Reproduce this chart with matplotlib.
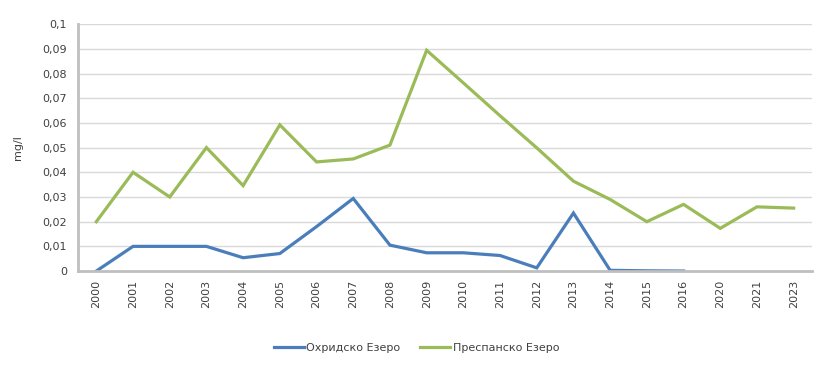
import matplotlib
matplotlib.use("Agg")
import matplotlib.pyplot as plt
import numpy as np

years = ["2000", "2001", "2002", "2003", "2004", "2005", "2006", "2007", "2008", "2009",
         "2010", "2011", "2012", "2013", "2014", "2015", "2016", "2020", "2021", "2023"]
ohrid = [0.0, 0.010, 0.010, 0.010, 0.0054, 0.0071, 0.018, 0.0294, 0.0105, 0.0074,
         0.0074, 0.0063, 0.0013, 0.0235, 0.0003, 0.0001, 0.0, None, None, None]
prespa = [0.020, 0.040, 0.030, 0.050, 0.0346, 0.0592, 0.0442, 0.0454, 0.051, 0.0894,
          0.0762, 0.0629, 0.0499, 0.0364, 0.029, 0.020, 0.027, 0.0173, 0.026, 0.0255]
yticks = [0, 0.01, 0.02, 0.03, 0.04, 0.05, 0.06, 0.07, 0.08, 0.09, 0.1]
ytick_labels = ["0", "0,01", "0,02", "0,03", "0,04", "0,05", "0,06", "0,07", "0,08", "0,09", "0,1"]
series_names = ["Охридско Езеро", "Преспанско Езеро"]

fig = plt.figure(figsize=(8.33, 3.77), dpi=100)
ax = fig.add_axes([0.0936, 0.281, 0.8812, 0.655])

x = np.arange(len(years))
oh = np.array([np.nan if v is None else v for v in ohrid], dtype=float)
pr = np.array(prespa, dtype=float)
ax.plot(x, oh, color="#4a7ebb", lw=2.3, label=series_names[0], solid_joinstyle="miter")
ax.plot(x, pr, color="#9bbb59", lw=2.3, label=series_names[1], solid_joinstyle="miter")

ax.set_xlim(-0.5, len(years) - 0.5)
ax.set_ylim(0, 0.1)
ax.set_yticks(yticks)
ax.set_yticklabels(ytick_labels)
ax.set_xticks(x)
ax.set_xticklabels(years, rotation=90)
ax.grid(axis="y", color="#d9d9d9", lw=1)
ax.set_axisbelow(True)
for s in ["top", "right"]:
    ax.spines[s].set_visible(False)
ax.spines["left"].set_color("#bfbfbf")
ax.spines["left"].set_linewidth(2)
ax.spines["bottom"].set_color("#bfbfbf")
ax.spines["bottom"].set_linewidth(2)
ax.tick_params(axis="y", length=0, labelsize=8, labelcolor="#404040", pad=8)
ax.tick_params(axis="x", length=0, labelsize=8, labelcolor="#404040", pad=6)
ax.set_ylabel("mg/l", fontsize=8, color="#404040", labelpad=14)

fig.legend(loc="center", bbox_to_anchor=(0.5, 0.077), ncol=2, frameon=False,
           fontsize=8, handlelength=2.7, handletextpad=0.2, columnspacing=1.8,
           labelcolor="#404040")

fig.savefig("out.png", dpi=100)
